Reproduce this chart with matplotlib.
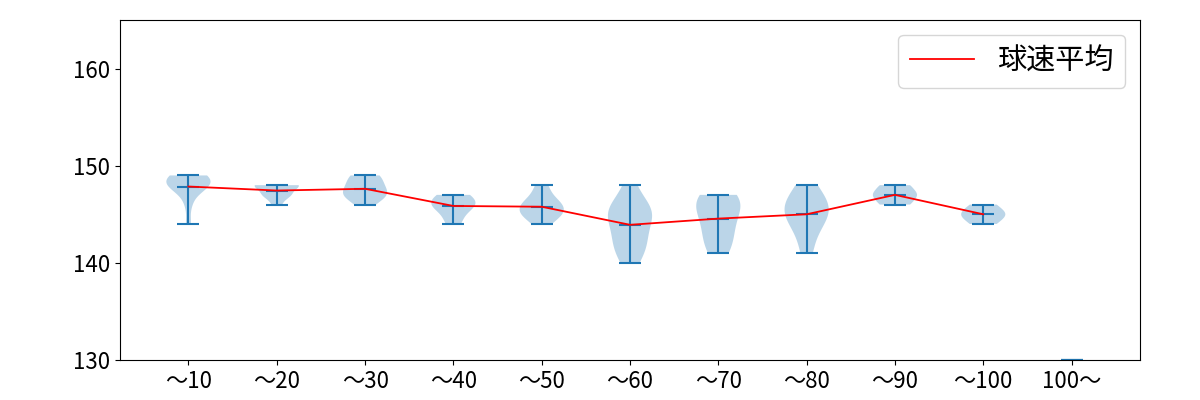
import numpy as np
import matplotlib
matplotlib.use('Agg')
import matplotlib.pyplot as plt

plt.rcParams['font.family'] = ['Noto Sans CJK JP', 'DejaVu Sans']

# Pitch speed samples (km/h) per pitch-count bin.
labels = ['〜10', '〜20', '〜30', '〜40', '〜50', '〜60',
          '〜70', '〜80', '〜90', '〜100', '100〜']
speeds = [
    [149] * 5 + [148] * 6 + [147, 146, 144],
    [148] * 5 + [147] * 3 + [146],
    [149, 149, 148, 148, 147, 147, 147, 146],
    [147, 147, 146, 146, 146, 145, 144],
    [148, 147, 146, 146, 145, 145, 145, 146, 144],
    [148, 146, 146, 145, 145, 145, 144, 143, 142, 142, 141, 140],
    [147, 147, 146, 146, 145, 144, 143, 142, 141],
    [148, 147, 146, 146, 145, 145, 144, 143, 141],
    [148, 148, 147, 147, 147, 146, 146],
    [146, 145, 145, 144],
    [130],  # no pitches in this bin, placeholder
]
has_data = [True] * 10 + [False]

positions = np.arange(1, len(labels) + 1)

fig, ax = plt.subplots(figsize=(12, 4), dpi=100)
fig.subplots_adjust(left=0.1, right=0.95, bottom=0.1, top=0.95)

ax.violinplot(speeds, positions=positions, showmeans=True)

# Mean line for bins that have pitches
mean_x = [p for p, ok in zip(positions, has_data) if ok]
mean_y = [np.mean(s) for s, ok in zip(speeds, has_data) if ok]
ax.plot(mean_x, mean_y, color='red', linewidth=1.3, label='球速平均')

ax.set_ylim(130, 165)
ax.set_yticks([130, 140, 150, 160])
ax.set_xticks(positions)
ax.set_xticklabels(labels)
ax.tick_params(labelsize=16)
ax.legend(loc='upper right', fontsize=21, handlelength=2.2)

fig.savefig('out.png')
